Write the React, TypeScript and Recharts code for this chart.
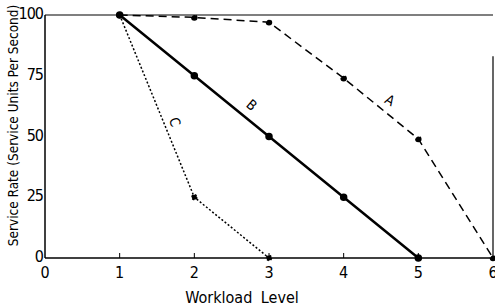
import React from 'react';
import { LineChart, Line, XAxis, YAxis, ReferenceLine, ReferenceDot, Label } from 'recharts';

const workload = [0, 1, 2, 3, 4, 5, 6];
const seriesA = [null, 100, 99, 97, 74, 49, 0];
const seriesB = [null, 100, 75, 50, 25, 0, null];
const seriesC = [null, 100, 25, 0, null, null, null];
const yTicks = [0, 25, 50, 75, 100];

const data = workload.map((w, i) => ({ w, A: seriesA[i], B: seriesB[i], C: seriesC[i] }));

const FONT = '"DejaVu Sans Condensed", "DejaVu Sans", sans-serif';

const XTick = (props: any) => {
  const { x, y, payload } = props;
  const v = payload.value;
  return (
    <g>
      {v > 0 && v < 6 ? <line x1={x} y1={y - 5} x2={x} y2={y} stroke="#000" strokeWidth={1} /> : null}
      <text x={x} y={y + 20} textAnchor="middle" fontSize={16} fontFamily={FONT} fill="#000">{v}</text>
    </g>
  );
};

const YTick = (props: any) => {
  const { x, y, payload } = props;
  return (
    <text x={x - 1} y={y + 4} textAnchor="end" fontSize={16} fontFamily={FONT} fill="#000" letterSpacing={-1}>{payload.value}</text>
  );
};

const rotLabel = (text: string, angle: number) => (props: any) => {
  const { viewBox } = props;
  const cx = viewBox.cx ?? viewBox.x;
  const cy = viewBox.cy ?? viewBox.y;
  return (
    <text x={cx} y={cy} textAnchor="middle" dominantBaseline="central" fontSize={14} fontFamily={FONT} fill="#000" transform={`rotate(${angle} ${cx} ${cy})`}>{text}</text>
  );
};

const YTitle = (props: any) => {
  const { viewBox } = props;
  const cx = 13;
  const cy = viewBox.y + viewBox.height / 2 - 11;
  return (
    <text x={cx} y={cy} textAnchor="middle" dominantBaseline="central" fontSize={13.5} fontFamily={FONT} fill="#000" transform={`rotate(-90 ${cx} ${cy})`}>Service Rate (Service Units Per Second)</text>
  );
};

const XTitle = (props: any) => {
  const { viewBox } = props;
  const cx = 242;
  const cy = viewBox.y + viewBox.height - 10;
  return (
    <text x={cx} y={cy} textAnchor="middle" dominantBaseline="central" fontSize={16} fontFamily={FONT} fill="#000" wordSpacing={4}>Workload Level</text>
  );
};

export default function App() {
  return (
    <div style={{ position: 'absolute', left: 0, top: 0, background: '#fff' }}>
      <LineChart width={495} height={307} data={data} margin={{ top: 15, right: 2, left: 0, bottom: 0 }}>
        <XAxis dataKey="w" type="number" domain={[0, 6]} ticks={workload} tick={<XTick />} tickLine={false} tickSize={0} tickMargin={0} height={49} axisLine={{ stroke: '#000', strokeWidth: 1.5 }} interval={0}>
          <Label content={<XTitle />} />
        </XAxis>
        <YAxis type="number" domain={[0, 100]} ticks={yTicks} tick={<YTick />} tickLine={false} tickSize={0} tickMargin={1} width={45} axisLine={{ stroke: '#000', strokeWidth: 1.5 }} interval={0}>
          <Label content={<YTitle />} />
        </YAxis>
        <ReferenceLine y={100} stroke="#000" strokeWidth={1.2} />
        <ReferenceLine segment={[{ x: 6, y: 0 }, { x: 6, y: 83 }]} stroke="#000" strokeWidth={1.2} />
        <Line dataKey="A" stroke="#000" strokeWidth={1.5} strokeDasharray="8 5" dot={{ r: 2.5, fill: '#000', stroke: '#000' }} isAnimationActive={false} connectNulls={false} />
        <Line dataKey="B" stroke="#000" strokeWidth={2.5} dot={{ r: 2.5, fill: '#000', stroke: '#000' }} isAnimationActive={false} />
        <Line dataKey="C" stroke="#000" strokeWidth={1.5} strokeDasharray="2 2" dot={{ r: 2.5, fill: '#000', stroke: '#000' }} isAnimationActive={false} />
        <ReferenceDot x={4.62} y={65} r={0} stroke="none" label={rotLabel('A', 30)} />
        <ReferenceDot x={2.77} y={63} r={0} stroke="none" label={rotLabel('B', 40)} />
        <ReferenceDot x={1.74} y={56} r={0} stroke="none" label={rotLabel('C', 70)} />
      </LineChart>
    </div>
  );
}
